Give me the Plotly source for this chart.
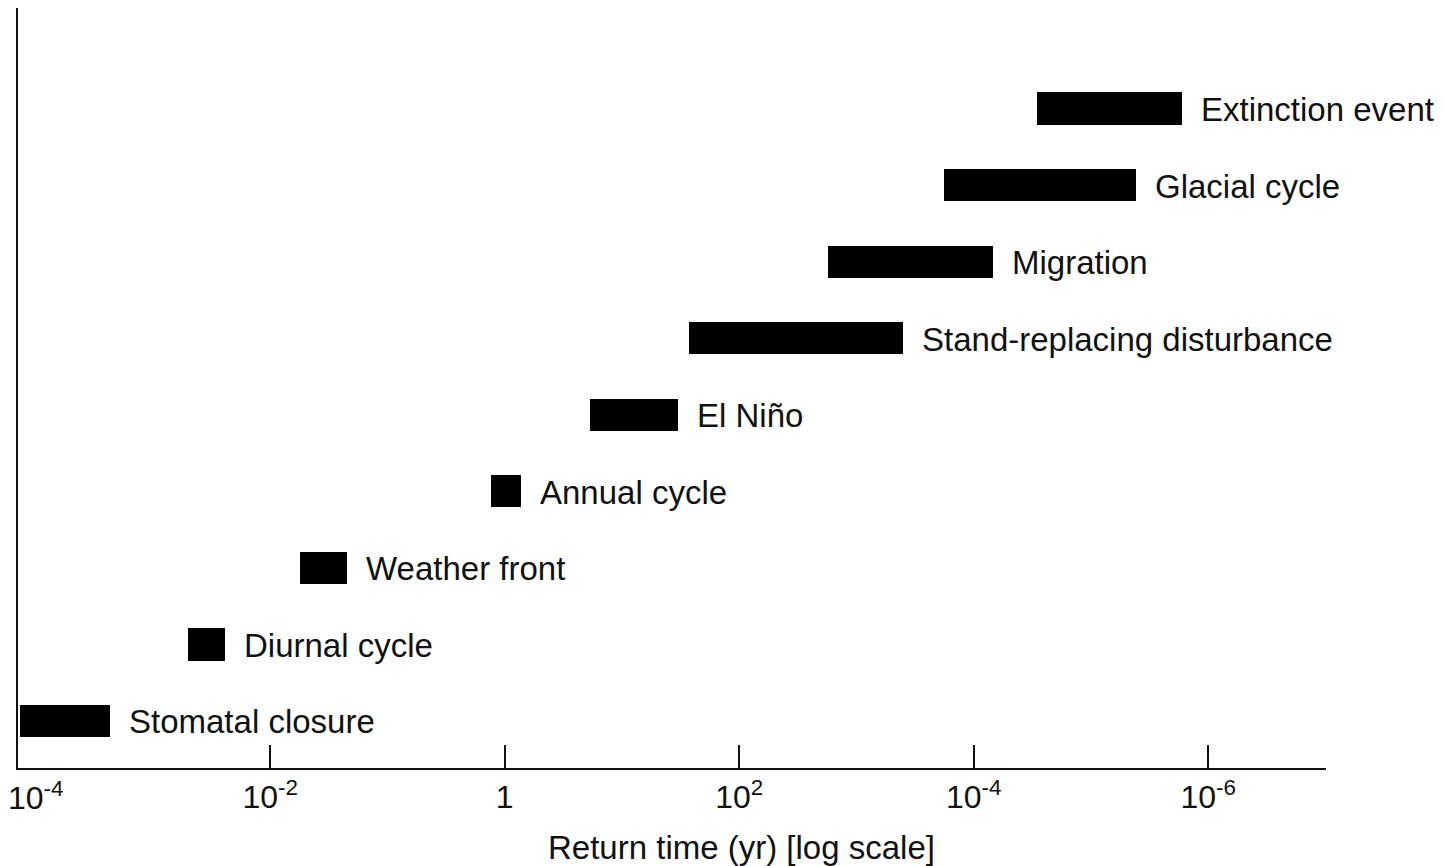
import numpy as np
import plotly.graph_objects as go

# Ecological processes ordered bottom to top, with the span of return times (years)
processes = [
    "Stomatal closure",
    "Diurnal cycle",
    "Weather front",
    "Annual cycle",
    "El Niño",
    "Stand-replacing disturbance",
    "Migration",
    "Glacial cycle",
    "Extinction event",
]
start_yr = [7.3e-5, 2.0e-3, 0.018, 0.76, 5.3, 37, 570, 5600, 35000]
end_yr = [4.3e-4, 4.1e-3, 0.045, 1.37, 30, 2500, 14600, 240000, 600000]

# Axis ticks as labelled on the return-time axis
tick_vals = [1e-4, 1e-2, 1, 1e2, 1e4, 1e6]
tick_text = ["10<sup>-4</sup>", "10<sup>-2</sup>", "1", "10<sup>2</sup>",
             "10<sup>-4</sup>", "10<sup>-6</sup>"]

FONT = "Liberation Sans, Arial, Helvetica, sans-serif"
INK = "#111111"
FS = 33

fig = go.Figure()
fig.add_trace(go.Bar(
    y=processes,
    x=[e - s for s, e in zip(start_yr, end_yr)],
    base=start_yr,
    orientation="h",
    width=0.42,
    marker=dict(color="#000000", line=dict(width=0)),
    hoverinfo="skip",
    showlegend=False,
))

annotations = []
# Process names to the right of each bar
for name, e in zip(processes, end_yr):
    annotations.append(dict(
        x=np.log10(e), y=name, xref="x", yref="y",
        text=name, showarrow=False, xanchor="left", yanchor="middle",
        xshift=17, yshift=-1,
        font=dict(family=FONT, size=FS, color=INK),
    ))

# Leftmost tick label sits at the axis origin without a tick mark
annotations.append(dict(
    x=np.log10(tick_vals[0]), y=0, xref="x", yref="paper",
    text=tick_text[0], showarrow=False, xanchor="center", yanchor="top",
    yshift=-6, font=dict(family=FONT, size=FS - 1, color=INK),
))

# Axis title
annotations.append(dict(
    x=0.5528, y=0, xref="paper", yref="paper",
    text="Return time (yr) [log scale]", showarrow=False,
    xanchor="center", yanchor="middle", yshift=-79,
    font=dict(family=FONT, size=FS, color=INK),
))

fig.update_layout(
    width=1445, height=866,
    margin=dict(l=18, r=119, t=8, b=98),
    paper_bgcolor="white", plot_bgcolor="white",
    font=dict(family=FONT, size=FS, color=INK),
    bargap=0,
    annotations=annotations,
    xaxis=dict(
        type="log",
        range=[-4.151, 7.005],
        showline=True, linecolor=INK, linewidth=2,
        tickvals=tick_vals[1:], ticktext=tick_text[1:],
        ticks="inside", ticklen=23, tickwidth=2, tickcolor=INK,
        tickfont=dict(family=FONT, size=FS - 1, color=INK),
        showgrid=False, zeroline=False,
    ),
    yaxis=dict(
        type="category",
        categoryorder="array", categoryarray=processes,
        range=[-0.614, 9.313],
        showline=True, linecolor=INK, linewidth=2,
        showticklabels=False, ticks="",
        showgrid=False, zeroline=False,
    ),
)

fig.write_html("out.html")
